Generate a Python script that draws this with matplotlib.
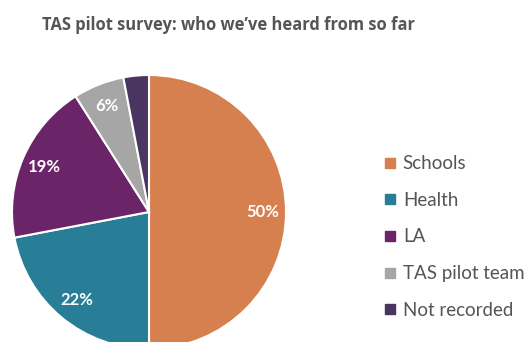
import matplotlib
matplotlib.use("Agg")
import matplotlib.pyplot as plt
from matplotlib.lines import Line2D

# Survey respondents by group (percent of responses)
groups = ["Schools", "Health", "LA", "TAS pilot team", "Not recorded"]
shares = [50, 22, 19, 6, 3]
colors = ["#D6804F", "#287E96", "#6B2468", "#A6A6A6", "#4A3560"]

W, H = 530, 342
fig = plt.figure(figsize=(W / 100, H / 100), dpi=100)
ax = fig.add_axes([0, 0, 1, 1])

wedges, texts, autotexts = ax.pie(
    shares,
    colors=colors,
    startangle=90,
    counterclock=False,
    center=(149, H - 212),
    radius=137,
    autopct=lambda p: f"{p:.0f}%" if p > 4 else "",
    pctdistance=0.83,
    wedgeprops=dict(edgecolor="white", linewidth=1.5),
    textprops=dict(color="white", fontsize=12, fontweight="bold", family="Lato"),
)
ax.set_xlim(0, W)
ax.set_ylim(0, H)
ax.set_aspect("equal")
ax.axis("off")

fig.text(42 / W, 1 - 25 / H, "TAS pilot survey: who we\u2019ve heard from so far",
         fontsize=11.9, fontweight="bold", color="#555555", family="Open Sans",
         va="center", ha="left")

handles = [Line2D([], [], marker="s", linestyle="", markersize=6.5,
                  markerfacecolor=c, markeredgecolor=c) for c in colors]
fig.legend(handles, groups, loc="upper left", bbox_to_anchor=(370 / W, 1 - 142 / H),
           frameon=False, handlelength=0.7, handletextpad=0.35, labelspacing=1.05,
           borderpad=0.2, prop=dict(family="Lato", size=13.5), labelcolor="#555555")

fig.savefig("out.png", dpi=100, facecolor="white")
